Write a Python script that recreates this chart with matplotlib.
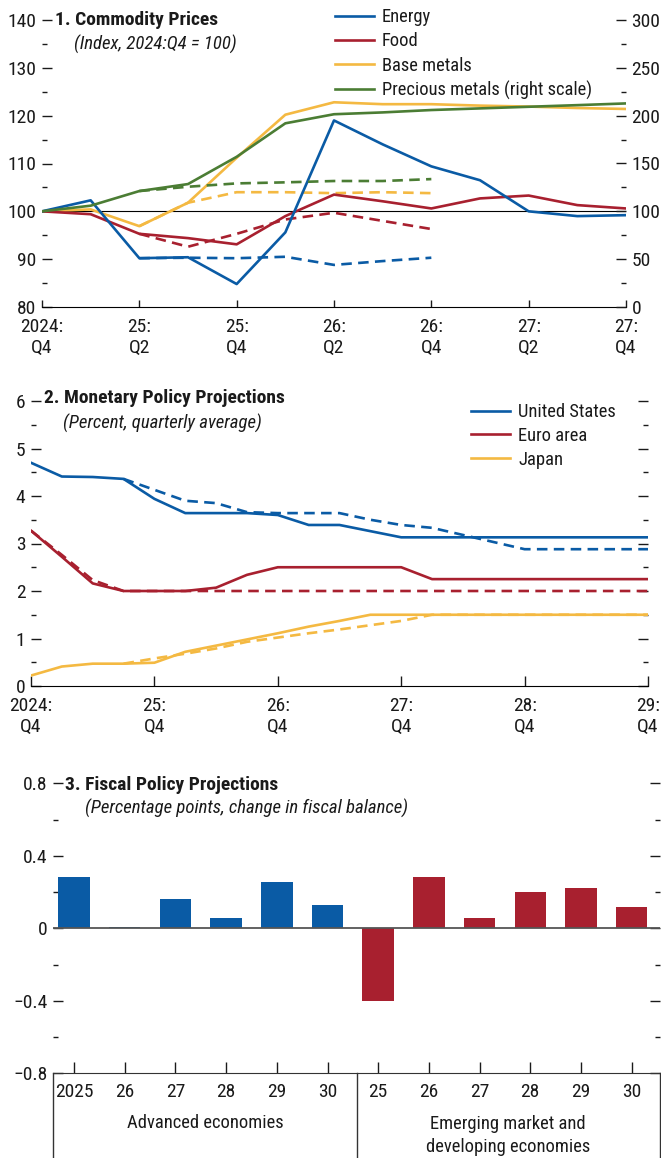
import matplotlib
matplotlib.use('Agg')
import matplotlib.pyplot as plt
from matplotlib.ticker import MultipleLocator, FuncFormatter
from matplotlib.lines import Line2D

plt.rcParams['font.family'] = ['Roboto Condensed', 'Liberation Sans Narrow', 'DejaVu Sans']

# ---- Panel 1: commodity prices, 2024:Q4 .. 2027:Q4 (index 2024:Q4 = 100)
q1_ticks = ['2024:\nQ4', '25:\nQ2', '25:\nQ4', '26:\nQ2', '26:\nQ4', '27:\nQ2', '27:\nQ4']
energy = [100, 102.3, 90.2, 90.4, 84.8, 95.6, 119.0, 114.0, 109.4, 106.5, 100.0, 99.0, 99.2]
food = [100, 99.4, 95.3, 94.4, 93.1, 99.0, 103.5, 102.1, 100.6, 102.7, 103.3, 101.3, 100.6]
base_metals = [100, 100.4, 96.9, 101.8, 111.2, 120.2, 122.8, 122.4, 122.4, 122.1, 121.9, 121.6, 121.4]
precious = [100, 105.9, 121.2, 128.5, 157, 192, 201.5, 203.4, 205.9, 207.6, 209.3, 211, 212.8]
# earlier-vintage projections (dashed), 2025:Q2 .. 2026:Q4
energy_old = [90.2, 90.3, 90.2, 90.5, 88.8, 89.6, 90.3]
food_old = [95.3, 92.6, 95.3, 98.3, 99.7, 98.0, 96.3]
base_old = [96.9, 101.8, 104.0, 104.0, 103.8, 104.0, 103.8]
precious_old = [121.2, 125.7, 129.2, 130.3, 131.7, 131.7, 133.7]

# ---- Panel 2: policy rates, 2024:Q4 .. 2029:Q4
q2_ticks = ['2024:\nQ4', '25:\nQ4', '26:\nQ4', '27:\nQ4', '28:\nQ4', '29:\nQ4']
us = [4.7, 4.41, 4.4, 4.36, 3.94, 3.64, 3.64, 3.64, 3.6, 3.39, 3.39, 3.26, 3.13] + [3.13] * 8
euro = [3.27, 2.72, 2.16, 2.0, 2.0, 2.0, 2.07, 2.34, 2.5, 2.5, 2.5, 2.5, 2.5] + [2.25] * 8
japan = [0.22, 0.41, 0.47, 0.47, 0.49, 0.72, 0.85, 0.98, 1.11, 1.25, 1.37] + [1.5] * 10
# previous projections (dashed); US and Japan start at 2025:Q3
us_old = [4.36, 4.13, 3.9, 3.85, 3.66, 3.64, 3.64, 3.64, 3.5, 3.39, 3.33, 3.18, 3.03] + [2.88] * 5
euro_old = [3.27, 2.76, 2.23] + [2.0] * 18
japan_old = [0.47, 0.58, 0.68, 0.79, 0.93, 1.02, 1.11, 1.19, 1.28, 1.37] + [1.5] * 8

# ---- Panel 3: change in fiscal balance
years_ae = ['2025', '26', '27', '28', '29', '30']
years_em = ['25', '26', '27', '28', '29', '30']
fiscal_ae = [0.283, 0.007, 0.162, 0.057, 0.255, 0.129]
fiscal_em = [-0.40, 0.283, 0.057, 0.199, 0.222, 0.118]

BLUE = '#0a5ba5'
RED = '#a8202f'
YELLOW = '#f4b942'
GREEN = '#4b7d34'
TXT = '#1a1a1a'
FS = 14          # tick labels
FS_TITLE = 14
FS_SUB = 13.5
FS_LEG = 13.3
LW = 1.9
DASH = (4, 2.4)

W, H = 661, 1158
fig = plt.figure(figsize=(W / 100, H / 100), dpi=100)


def box(left, top, right, bottom):
    return [left / W, 1 - bottom / H, (right - left) / W, (bottom - top) / H]


def ftext(x, y, s, **kw):
    fig.text(x / W, 1 - y / H, s, va='center', color=TXT, **kw)


def style(ax):
    for s in ['left', 'right', 'top']:
        ax.spines[s].set_visible(False)
    ax.tick_params(axis='both', which='both', direction='in', labelsize=FS, colors=TXT)
    ax.tick_params(axis='y', which='major', length=7, width=1, pad=4)
    ax.tick_params(axis='y', which='minor', length=3.5, width=1)
    ax.tick_params(axis='x', length=5, width=1, pad=8)


# ================= Panel 1
ax1 = fig.add_axes(box(42, 20, 626, 307))
style(ax1)
x1 = list(range(len(energy)))
xo = list(range(2, 2 + len(energy_old)))
ax1.axhline(100, color='black', lw=0.8, zorder=1)
ax1.plot(xo, energy_old, color=BLUE, lw=LW, dashes=DASH, zorder=2)
ax1.plot(xo, food_old, color=RED, lw=LW, dashes=DASH, zorder=2)
ax1.plot(xo, base_old, color=YELLOW, lw=LW, dashes=DASH, zorder=2)
ax1.plot(x1, base_metals, color=YELLOW, lw=LW, zorder=3)
ax1.plot(x1, food, color=RED, lw=LW, zorder=3)
ax1.plot(x1, energy, color=BLUE, lw=LW, zorder=3)
ax1.set_xlim(0, 12)
ax1.set_ylim(80, 140)
ax1.yaxis.set_major_locator(MultipleLocator(10))
ax1.yaxis.set_minor_locator(MultipleLocator(5))
ax1.set_xticks(range(0, 13, 2))
ax1.set_xticklabels(q1_ticks)

ax1r = ax1.twinx()
for s in ax1r.spines.values():
    s.set_visible(False)
ax1r.plot(xo, precious_old, color=GREEN, lw=LW, dashes=DASH)
ax1r.plot(x1, precious, color=GREEN, lw=LW)
ax1r.set_ylim(0, 300)
ax1r.yaxis.set_major_locator(MultipleLocator(50))
ax1r.yaxis.set_minor_locator(MultipleLocator(25))
ax1r.tick_params(axis='y', which='both', direction='in', labelsize=FS, colors=TXT)
ax1r.tick_params(axis='y', which='major', length=7, width=1, pad=4)
ax1r.tick_params(axis='y', which='minor', length=3.5, width=1)

h1 = [Line2D([], [], color=c, lw=LW) for c in (BLUE, RED, YELLOW, GREEN)]
fig.legend(h1, ['Energy', 'Food', 'Base metals', 'Precious metals (right scale)'],
           loc='upper left', bbox_to_anchor=(335 / W, 1 - 8 / H), frameon=False,
           fontsize=FS_LEG, handlelength=2.1, handletextpad=0.45, labelspacing=0.34,
           borderpad=0, borderaxespad=0, labelcolor=TXT)

ftext(55, 20, '1. Commodity Prices', fontsize=FS_TITLE, fontweight='bold')
ftext(74, 44, '(Index, 2024:Q4 = 100)', fontsize=FS_SUB, fontstyle='italic')

# ================= Panel 2
ax2 = fig.add_axes(box(31, 401, 648, 686))
style(ax2)
x2 = list(range(len(us)))
ax2.plot(range(3, 21), us_old, color=BLUE, lw=LW, dashes=DASH, zorder=2)
ax2.plot(range(0, 21), euro_old, color=RED, lw=LW, dashes=DASH, zorder=2)
ax2.plot(range(3, 21), japan_old, color=YELLOW, lw=LW, dashes=DASH, zorder=2)
ax2.plot(x2, us, color=BLUE, lw=LW, zorder=3)
ax2.plot(x2, euro, color=RED, lw=LW, zorder=3)
ax2.plot(x2, japan, color=YELLOW, lw=LW, zorder=3)
ax2.set_xlim(0, 20)
ax2.set_ylim(0, 6)
ax2.yaxis.set_major_locator(MultipleLocator(1))
ax2.yaxis.set_minor_locator(MultipleLocator(0.5))
ax2.tick_params(axis='y', which='both', right=True, labelright=False)
ax2.set_xticks(range(0, 21, 4))
ax2.set_xticklabels(q2_ticks)
ax2.tick_params(axis='x', length=7, pad=8)
ax2.legend([Line2D([], [], color=c, lw=LW) for c in (BLUE, RED, YELLOW)],
           ['United States', 'Euro area', 'Japan'],
           loc='upper left', bbox_to_anchor=(471 / W, 1 - 403 / H),
           bbox_transform=fig.transFigure, frameon=False, fontsize=FS_LEG,
           handlelength=2.1, handletextpad=0.45, labelspacing=0.32,
           borderpad=0, borderaxespad=0, labelcolor=TXT)

ftext(44, 398, '2. Monetary Policy Projections', fontsize=FS_TITLE, fontweight='bold')
ftext(63, 423, '(Percent, quarterly average)', fontsize=FS_SUB, fontstyle='italic')

# ================= Panel 3
ax3 = fig.add_axes(box(53.3, 783.3, 660, 1073.3))
style(ax3)
ax3.spines['bottom'].set_color('#333333')
n_ae = len(fiscal_ae)
ax3.bar(range(n_ae), fiscal_ae, width=0.62, color=BLUE, zorder=2)
ax3.bar(range(n_ae, n_ae + len(fiscal_em)), fiscal_em, width=0.62, color=RED, zorder=2)
ax3.axhline(0, color='#555555', lw=1.3, zorder=3)
ax3.set_xlim(-0.41, 11.56)
ax3.set_ylim(-0.8, 0.8)
ax3.yaxis.set_major_locator(MultipleLocator(0.4))
ax3.yaxis.set_minor_locator(MultipleLocator(0.2))
ax3.yaxis.set_major_formatter(FuncFormatter(
    lambda v, _: '0' if abs(v) < 1e-9 else f'{v:.1f}'.replace('-', '\u2212')))
ax3.tick_params(axis='y', which='both', right=True, labelright=False)
ax3.set_xticks(range(n_ae + len(fiscal_em)))
ax3.set_xticklabels(years_ae + years_em)
ax3.tick_params(axis='x', length=8, pad=7)

for xp in (53.3, 356.7, 659.5):
    fig.add_artist(Line2D([xp / W, xp / W], [1 - 1073.3 / H, 0], transform=fig.transFigure,
                          color='#333333', lw=1))

ftext(205, 1123, 'Advanced economies', fontsize=FS_LEG, ha='center')
ftext(508, 1135.5, 'Emerging market and\ndeveloping economies', fontsize=FS_LEG, ha='center',
      linespacing=1.3)

ftext(65, 785, '3. Fiscal Policy Projections', fontsize=FS_TITLE, fontweight='bold')
ftext(85, 808, '(Percentage points, change in fiscal balance)', fontsize=FS_SUB,
      fontstyle='italic')

fig.savefig('out.png', dpi=100)
